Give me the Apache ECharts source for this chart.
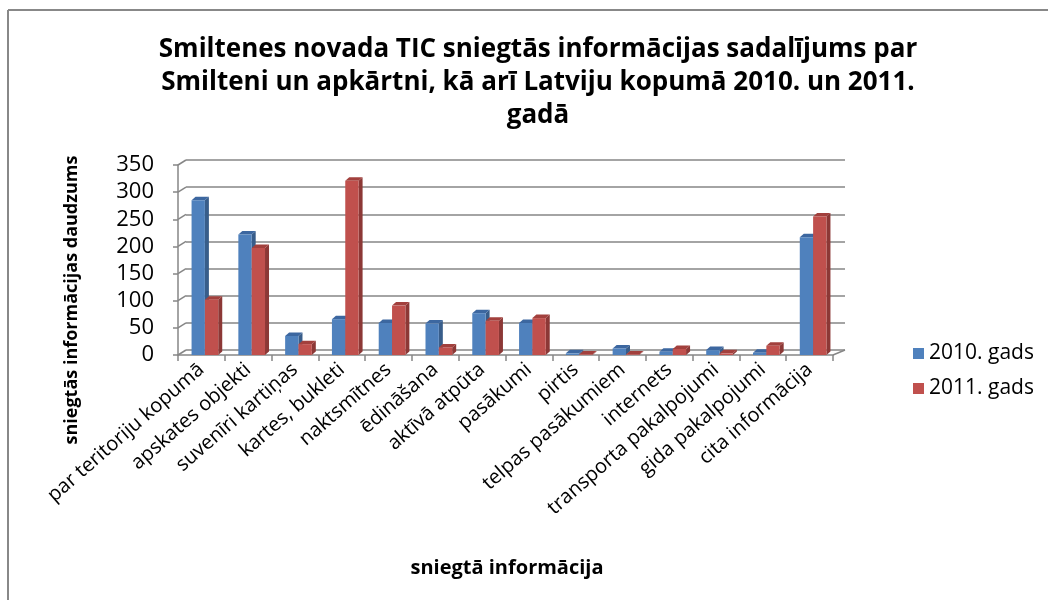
<!DOCTYPE html>
<html>
<head>
<meta charset="utf-8">
<script src="https://cdn.jsdelivr.net/npm/echarts@6/dist/echarts.min.js"></script>
<style>
  html, body { margin: 0; padding: 0; background: #fff; }
  #chart { width: 1048px; height: 600px; }
</style>
</head>
<body>
<div id="chart"></div>
<script>
const categories = [
  'par teritoriju kopumā', 'apskates objekti', 'suvenīri kartiņas', 'kartes, bukleti',
  'naktsmītnes', 'ēdināšana', 'aktīvā atpūta', 'pasākumi', 'pirtis',
  'telpas pasākumiem', 'internets', 'transporta pakalpojumi', 'gida pakalpojumi', 'cita informācija'
];
const values2010 = [285, 222, 35, 66, 59, 58, 77, 59, 3, 12, 6, 9, 4, 217];
const values2011 = [102, 197, 20, 321, 91, 14, 63, 68, 1, 1, 11, 3, 17, 255];
const yTicks = [0, 50, 100, 150, 200, 250, 300, 350];

const FONT = '"Open Sans", "Liberation Sans", sans-serif';
const AXIS_GREY = '#868686';
const DEPTH_X = 4, DEPTH_Y = 3.5;

const chart = echarts.init(document.getElementById('chart'));

// 3d-looking column: front face + right side + top
function columnRenderer(offsetFrac, sideColor, topColor) {
  return function (params, api) {
    const i = api.value(0);
    const v = api.value(1);
    const base = api.coord([i, 0]);
    const top = api.coord([i, v]);
    const bw = api.size([1, 0])[0];
    const w = bw * 0.285;
    const x0 = base[0] + offsetFrac * bw;
    const x1 = x0 + w;
    const y0 = base[1], y1 = top[1];
    return {
      type: 'group',
      children: [
        { type: 'polygon', shape: { points: [[x1, y0], [x1 + DEPTH_X, y0 - DEPTH_Y], [x1 + DEPTH_X, y1 - DEPTH_Y], [x1, y1]] }, style: { fill: sideColor } },
        { type: 'polygon', shape: { points: [[x0, y1], [x0 + DEPTH_X, y1 - DEPTH_Y], [x1 + DEPTH_X, y1 - DEPTH_Y], [x1, y1]] }, style: { fill: topColor } },
        { type: 'rect', shape: { x: x0, y: y1, width: w, height: y0 - y1 }, style: { fill: api.visual('color') } }
      ]
    };
  };
}

// short diagonals joining the front axis to the back wall
function wallEdgeRenderer(params, api) {
  const cs = params.coordSys;
  const v = api.value(0);
  const y = api.coord([0, v])[1];
  const lines = [{
    type: 'line',
    shape: { x1: cs.x, y1: y, x2: cs.x + 8, y2: y - 5 },
    style: { stroke: AXIS_GREY, lineWidth: 1.5 }
  }];
  if (v === 0) {
    lines.push({
      type: 'line',
      shape: { x1: cs.x + cs.width, y1: y, x2: cs.x + cs.width + 12, y2: y - 5 },
      style: { stroke: AXIS_GREY, lineWidth: 1.5 }
    });
  }
  return { type: 'group', children: lines };
}

const option = {
  backgroundColor: '#fff',
  animation: false,
  title: {
    text: 'Smiltenes novada TIC sniegtās informācijas sadalījums par\nSmilteni un apkārtni, kā arī Latviju kopumā 2010. un 2011.\ngadā',
    left: 533,
    top: 28,
    textAlign: 'center',
    textStyle: { fontFamily: FONT, fontWeight: 'bold', fontSize: 26, lineHeight: 33, color: '#000' }
  },
  legend: {
    orient: 'vertical',
    left: 908,
    top: 338,
    itemWidth: 11,
    itemHeight: 11,
    itemGap: 14,
    icon: 'rect',
    textStyle: { fontFamily: FONT, fontSize: 21, color: '#000' },
    data: ['2010. gads', '2011. gads']
  },
  grid: [
    { left: 186, right: 203, top: 160, bottom: 250 },
    { left: 178, right: 215, top: 165, bottom: 245 }
  ],
  xAxis: [
    { gridIndex: 0, type: 'category', data: categories, show: false },
    {
      gridIndex: 1,
      type: 'category',
      data: categories,
      axisLine: { lineStyle: { color: AXIS_GREY, width: 1.5 } },
      axisTick: { show: true, length: 6, lineStyle: { color: AXIS_GREY, width: 1.5 } },
      axisLabel: { interval: 0, rotate: 41, margin: 12, fontFamily: FONT, fontSize: 20, color: '#000' }
    }
  ],
  yAxis: [
    {
      gridIndex: 0, type: 'value', min: 0, max: 350, interval: 50,
      axisLine: { show: false }, axisTick: { show: false }, axisLabel: { show: false },
      splitLine: { lineStyle: { color: AXIS_GREY, width: 1.5 } }
    },
    {
      gridIndex: 1, type: 'value', min: 0, max: 350, interval: 50,
      axisLine: { show: true, lineStyle: { color: AXIS_GREY, width: 1.5 } },
      axisTick: { show: true, length: 5, lineStyle: { color: AXIS_GREY, width: 1.5 } },
      axisLabel: { margin: 24, fontFamily: FONT, fontSize: 22, color: '#000' },
      splitLine: { show: false }
    }
  ],
  series: [
    {
      name: 'wall',
      type: 'custom',
      xAxisIndex: 1,
      yAxisIndex: 1,
      renderItem: wallEdgeRenderer,
      data: yTicks.map(v => [v]),
      silent: true
    },
    {
      name: '2010. gads',
      type: 'custom',
      xAxisIndex: 1,
      yAxisIndex: 1,
      itemStyle: { color: '#4F81BD' },
      renderItem: columnRenderer(-0.21, '#385D8A', '#3C67A0'),
      data: values2010.map((v, i) => [i, v])
    },
    {
      name: '2011. gads',
      type: 'custom',
      xAxisIndex: 1,
      yAxisIndex: 1,
      itemStyle: { color: '#C0504D' },
      renderItem: columnRenderer(0.075, '#8C3836', '#A2403D'),
      data: values2011.map((v, i) => [i, v])
    }
  ],
  graphic: [
    { type: 'line', shape: { x1: 8, y1: 10, x2: 1048, y2: 10 }, style: { stroke: '#888', lineWidth: 2 } },
    { type: 'line', shape: { x1: 8, y1: 10, x2: 8, y2: 600 }, style: { stroke: '#888', lineWidth: 2 } },
    {
      type: 'text', x: 72, y: 300, rotation: Math.PI / 2,
      style: { text: 'sniegtās informācijas daudzums', font: 'bold 18px ' + FONT, fill: '#000', textAlign: 'center', textVerticalAlign: 'middle' }
    },
    {
      type: 'text', x: 507, y: 568,
      style: { text: 'sniegtā informācija', font: 'bold 20px ' + FONT, fill: '#000', textAlign: 'center', textVerticalAlign: 'middle' }
    }
  ]
};

chart.setOption(option);
</script>
</body>
</html>
